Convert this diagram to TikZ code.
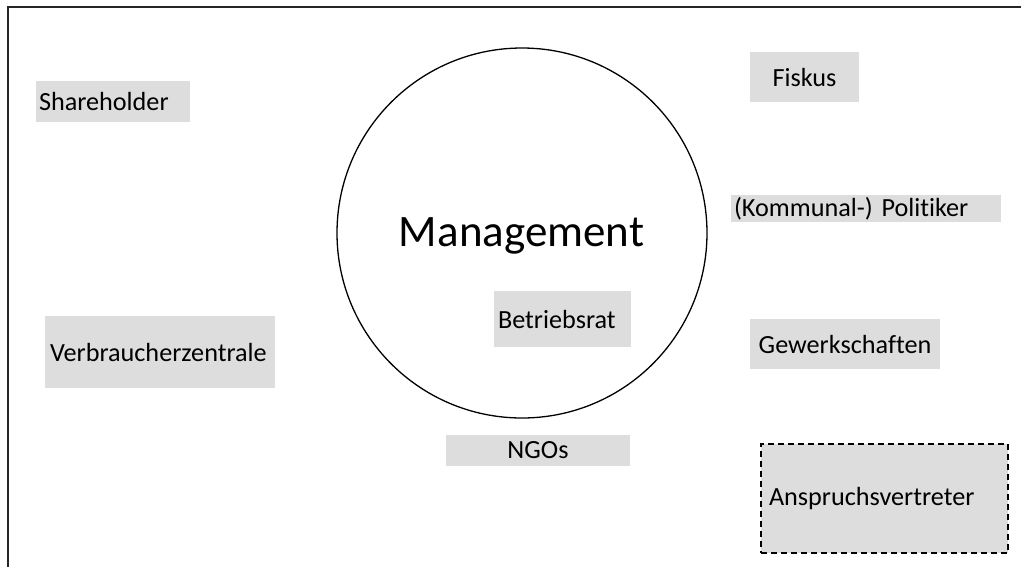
\documentclass[tikz,border=0pt]{standalone}
\usepackage{fontspec}
\setmainfont{Carlito}[Ligatures={NoCommon}]
\definecolor{boxgray}{HTML}{DDDDDD}
\begin{document}
\begin{tikzpicture}[x=1pt,y=-1pt,
  lbl/.style={fill=boxgray, inner sep=0pt, font=\fontsize{26.2}{30}\selectfont, text=black},
  frameline/.style={draw=black!85, line width=1.4pt}]
\useasboundingbox (0,0) rectangle (1021,566);
\clip (0,0) rectangle (1021,566);
\draw[frameline] (8,7) rectangle (1040,590);
% circle
\node[draw, line width=1.3pt, circle, minimum size=370pt, inner sep=0pt] (mgmt) at (522,233) {};
\node[font=\fontsize{45}{50}\selectfont] (mtext) at (521.5,236) {Management};
% boxes
\node[lbl, minimum width=154pt, minimum height=41pt, text width=148pt, align=left] (share) at (113,101.5) {Shareholder};
\node[lbl, minimum width=109pt, minimum height=50pt, align=center] (fiskus) at (804.5,77) {Fiskus};
\node[lbl, minimum width=270pt, minimum height=27pt, text width=264pt, align=left] (polit) at (866,208.5) {(Kommunal-) Politiker};
\node[lbl, minimum width=230pt, minimum height=72pt, text width=220pt, align=left] (verb) at (160,352) {Verbraucherzentrale};
\node[lbl, minimum width=137pt, minimum height=56pt, text width=129pt, align=left] (betr) at (562.5,319) {Betriebsrat};
\node[lbl, minimum width=190pt, minimum height=50pt, align=center] (gew) at (845,344) {Gewerkschaften};
\node[lbl, minimum width=184pt, minimum height=31pt, align=center] (ngo) at (538,450.5) {NGOs};
\node[lbl, draw=black, dashed, line width=1.6pt, dash pattern=on 6pt off 4pt, minimum width=247pt, minimum height=109pt, text width=231pt, align=left] (ansp) at (884.5,498.5) {Anspruchsvertreter};
\end{tikzpicture}
\end{document}
